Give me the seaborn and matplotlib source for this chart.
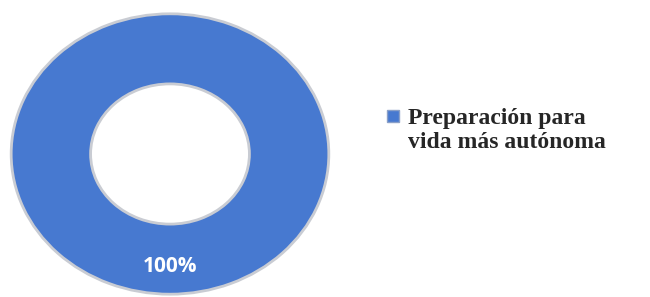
import matplotlib
matplotlib.use("Agg")
import matplotlib.pyplot as plt
import seaborn as sns
from matplotlib.lines import Line2D
from matplotlib.legend_handler import HandlerLine2D

# Datos
categorias = ["Preparación para\nvida más autónoma"]
valores = [100]
color_anillo = "#4779D0"


class HandlerArriba(HandlerLine2D):
    """Coloca el marcador de la leyenda a la altura de la primera línea."""

    def create_artists(self, legend, orig_handle, xdescent, ydescent,
                       width, height, fontsize, trans):
        artistas = super().create_artists(legend, orig_handle, xdescent, ydescent,
                                          width, height, fontsize, trans)
        for a in artistas:
            a.set_ydata([y + 0.6 * fontsize for y in a.get_ydata()])
        return artistas


sns.set_theme(style="white")

fig = plt.figure(figsize=(6.5, 2.97), dpi=100)
ax = fig.add_axes([8 / 650, 0 / 297, 324 / 650, 286 / 297])

wedges, textos, autotextos = ax.pie(
    valores,
    colors=[color_anillo],
    startangle=90,
    counterclock=False,
    autopct="%1.0f%%",
    pctdistance=0.8,
    wedgeprops=dict(width=0.5, edgecolor="#c9ccd3", linewidth=2),
)
for t in autotextos:
    t.set_color("white")
    t.set_fontsize(15)
    t.set_fontweight("bold")
    t.set_family(["Open Sans", "DejaVu Sans"])

ax.set_aspect("auto")
ax.set_xlim(-1.02, 1.02)
ax.set_ylim(-1.02, 1.02)
ax.axis("off")

handle = Line2D([], [], marker="s", linestyle="none", markersize=8.5,
                markerfacecolor=color_anillo, markeredgecolor="#8aa0c8")
fig.legend([handle], categorias, loc="center left",
           bbox_to_anchor=(374 / 650, 0.56), frameon=False,
           handlelength=0.8, handletextpad=0.25, borderaxespad=0,
           handler_map={Line2D: HandlerArriba()},
           prop=dict(family=["Liberation Serif", "DejaVu Serif"],
                     weight="bold", size=17))

fig.savefig("out.png", dpi=100)
